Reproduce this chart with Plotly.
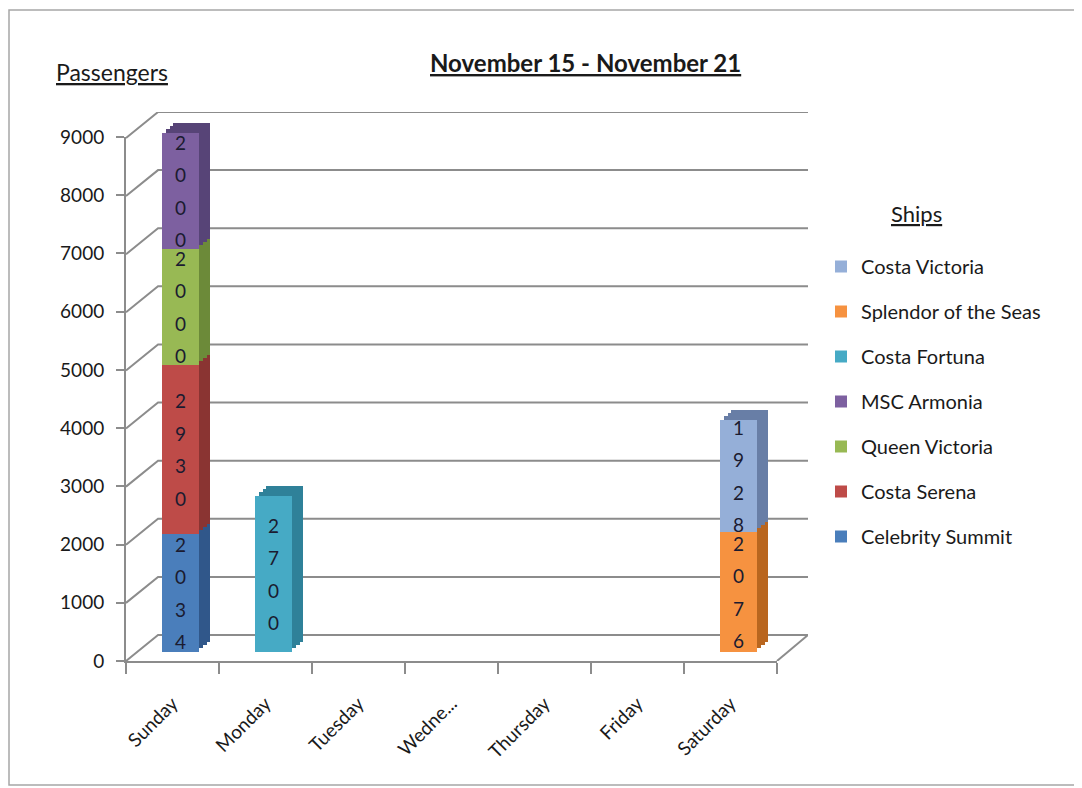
import plotly.graph_objects as go

# ---------------- data ----------------
days = ["Sunday", "Monday", "Tuesday", "Wednesday", "Thursday", "Friday", "Saturday"]
day_labels = ["Sunday", "Monday", "Tuesday", "Wedne...", "Thursday", "Friday", "Saturday"]

ships = ["Celebrity Summit", "Costa Serena", "Queen Victoria", "MSC Armonia",
         "Costa Fortuna", "Splendor of the Seas", "Costa Victoria"]
celebrity_summit = [2034, None, None, None, None, None, None]
costa_serena = [2930, None, None, None, None, None, None]
queen_victoria = [2000, None, None, None, None, None, None]
msc_armonia = [2000, None, None, None, None, None, None]
costa_fortuna = [None, 2700, None, None, None, None, None]
splendor_of_the_seas = [None, None, None, None, None, None, 2076]
costa_victoria = [None, None, None, None, None, None, 1928]
series_values = [celebrity_summit, costa_serena, queen_victoria, msc_armonia,
                 costa_fortuna, splendor_of_the_seas, costa_victoria]

y_ticks = [0, 1000, 2000, 3000, 4000, 5000, 6000, 7000, 8000, 9000]

# ---------------- styles ----------------
front_colors = ["#4a7ebb", "#be4b48", "#98b954", "#7d60a0", "#46aac5", "#f69240", "#95afd8"]
side_colors = ["#30578a", "#8a3432", "#6c8a39", "#574477", "#2f8199", "#b9661f", "#687ea6"]
FONT = "Lato, 'Open Sans', sans-serif"
TXT = "#1a1a1a"
GRID = "#8c8c8c"

W, H = 1082, 788
PAGE_OFF = 8  # the page body margin shifts the figure by this many pixels


def fx(px):
    return (px - PAGE_OFF) / W


def fy(px):
    return 1 - (px - PAGE_OFF) / H


DEPTH = 447          # wall depth expressed in value units
BACK_LEFT = 0.047    # fraction of wall width where back wall starts
FRONT_RIGHT = 0.9545 # fraction of wall width where front floor ends
SIDE_STEPS = [(4, -4), (8, -7), (11, -10)]  # pixel offsets of extrusion layers


def vertical_label(v):
    if v is None:
        return ""
    return "<br>".join("<span style='font-size:19px'>%s</span>" % d for d in str(v))


fig = go.Figure()

# back wall gridlines + floor diagonals (subplot xy, bottom layer)
wx, wy = [], []
for v in y_ticks:
    wx += [0, BACK_LEFT, 1, None]
    wy += [v - DEPTH, v, v, None]
wx += [1, FRONT_RIGHT]
wy += [y_ticks[0], y_ticks[0] - DEPTH]
fig.add_trace(go.Scatter(x=wx, y=wy, mode="lines", line=dict(color=GRID, width=2),
                         showlegend=False, hoverinfo="skip", xaxis="x", yaxis="y"))

# bar front position (px): x from 134 to 785, value 0 at 652, 9000 at 131
BX0, BX1, BY0, BY1 = 134, 785, 652, 131

layout_axes = {}
cat_common = dict(type="category", categoryorder="array", categoryarray=days,
                  range=[-0.5, len(days) - 0.5], fixedrange=True)
hidden = dict(showgrid=False, zeroline=False, showline=False, showticklabels=False, ticks="")

# extrusion layers (side/top faces) - deepest first
ax_id = 2
for dx, dy in reversed(SIDE_STEPS):
    for name, vals, col in zip(ships, series_values, side_colors):
        fig.add_trace(go.Bar(x=days, y=vals, marker=dict(color=col, line=dict(width=0)),
                             showlegend=False, hoverinfo="skip",
                             xaxis="x%d" % ax_id, yaxis="y%d" % ax_id))
    layout_axes["xaxis%d" % ax_id] = dict(domain=[fx(BX0 + dx), fx(BX1 + dx)],
                                          anchor="y%d" % ax_id, **cat_common, **hidden)
    layout_axes["yaxis%d" % ax_id] = dict(domain=[fy(BY0 + dy), fy(BY1 + dy)],
                                          range=[0, y_ticks[-1]], anchor="x%d" % ax_id, **hidden)
    ax_id += 1

# front faces with vertical digit labels
front_id = ax_id
n = len(ships)
for i, (name, vals, col) in enumerate(zip(ships, series_values, front_colors)):
    fig.add_trace(go.Bar(x=days, y=vals, name=name, legendgroup=name, legendrank=100 + n - i,
                         marker=dict(color=col, line=dict(width=0)),
                         text=[vertical_label(v) for v in vals],
                         textposition="inside", insidetextanchor="middle",
                         textangle=0, constraintext="none",
                         textfont=dict(family=FONT, size=25, color="#1b1b30"),
                         xaxis="x%d" % front_id, yaxis="y%d" % front_id))
layout_axes["xaxis%d" % front_id] = dict(domain=[fx(BX0), fx(BX1)], anchor="y%d" % front_id,
                                         **cat_common, **hidden)
layout_axes["yaxis%d" % front_id] = dict(domain=[fy(BY0), fy(BY1)], range=[0, y_ticks[-1]],
                                         anchor="x%d" % front_id, **hidden)

# front axis holder
axis_id = front_id + 1
fig.add_trace(go.Scatter(x=days, y=[None] * len(days), mode="markers", showlegend=False,
                         hoverinfo="skip", xaxis="x%d" % axis_id, yaxis="y%d" % axis_id))
layout_axes["xaxis%d" % axis_id] = dict(
    domain=[fx(126), fx(777)], anchor="y%d" % axis_id, **cat_common,
    showgrid=False, zeroline=False, showline=True, linecolor=GRID, linewidth=2,
    ticks="outside", tickson="boundaries", ticklen=11, tickcolor=GRID, tickwidth=1.5,
    tickmode="array", tickvals=days, ticktext=day_labels, tickangle=-45, ticklabelstandoff=22,
    tickfont=dict(family=FONT, size=19, color=TXT))
layout_axes["yaxis%d" % axis_id] = dict(
    domain=[fy(661), fy(137)], range=[0, y_ticks[-1]], anchor="x%d" % axis_id,
    showgrid=False, zeroline=False, showline=True, linecolor=GRID, linewidth=2,
    ticks="outside", ticklen=8, tickcolor=GRID, tickwidth=1.5,
    tickmode="array", tickvals=y_ticks, ticklabelstandoff=8,
    tickfont=dict(family=FONT, size=19, color=TXT))

fig.update_layout(
    width=W, height=H,
    margin=dict(l=0, r=0, t=0, b=0, autoexpand=False),
    paper_bgcolor="white", plot_bgcolor="rgba(0,0,0,0)",
    barmode="stack", bargap=0.61,
    font=dict(family=FONT, color=TXT),
    showlegend=True,
    legend=dict(x=fx(821), y=fy(247), xanchor="left", yanchor="top",
                traceorder="grouped", tracegroupgap=16,
                font=dict(family=FONT, size=20, color=TXT),
                bgcolor="rgba(0,0,0,0)"),
    xaxis=dict(domain=[fx(126), fx(808)], range=[0, 1], anchor="y", **hidden),
    yaxis=dict(domain=[fy(661), fy(112)], range=[-DEPTH, y_ticks[-1]], anchor="x", **hidden),
    annotations=[
        dict(text="<b><u>November 15 - November 21</u></b>", x=fx(585), y=fy(62),
             xref="paper", yref="paper", showarrow=False, xanchor="center", yanchor="middle",
             font=dict(family=FONT, size=24, color=TXT)),
        dict(text="<u>Passengers</u>", x=fx(112), y=fy(72),
             xref="paper", yref="paper", showarrow=False, xanchor="center", yanchor="middle",
             font=dict(family=FONT, size=23, color=TXT)),
        dict(text="<u>Ships</u>", x=fx(916), y=fy(213),
             xref="paper", yref="paper", showarrow=False, xanchor="center", yanchor="middle",
             font=dict(family=FONT, size=22, color=TXT)),
    ],
    shapes=[
        dict(type="rect", xref="paper", yref="paper", x0=fx(9), x1=fx(1100), y0=fy(785), y1=fy(10),
             line=dict(color="#a6a6a6", width=1.5), fillcolor="rgba(0,0,0,0)", layer="below"),
    ],
    **layout_axes,
)

fig.write_html("out.html")
